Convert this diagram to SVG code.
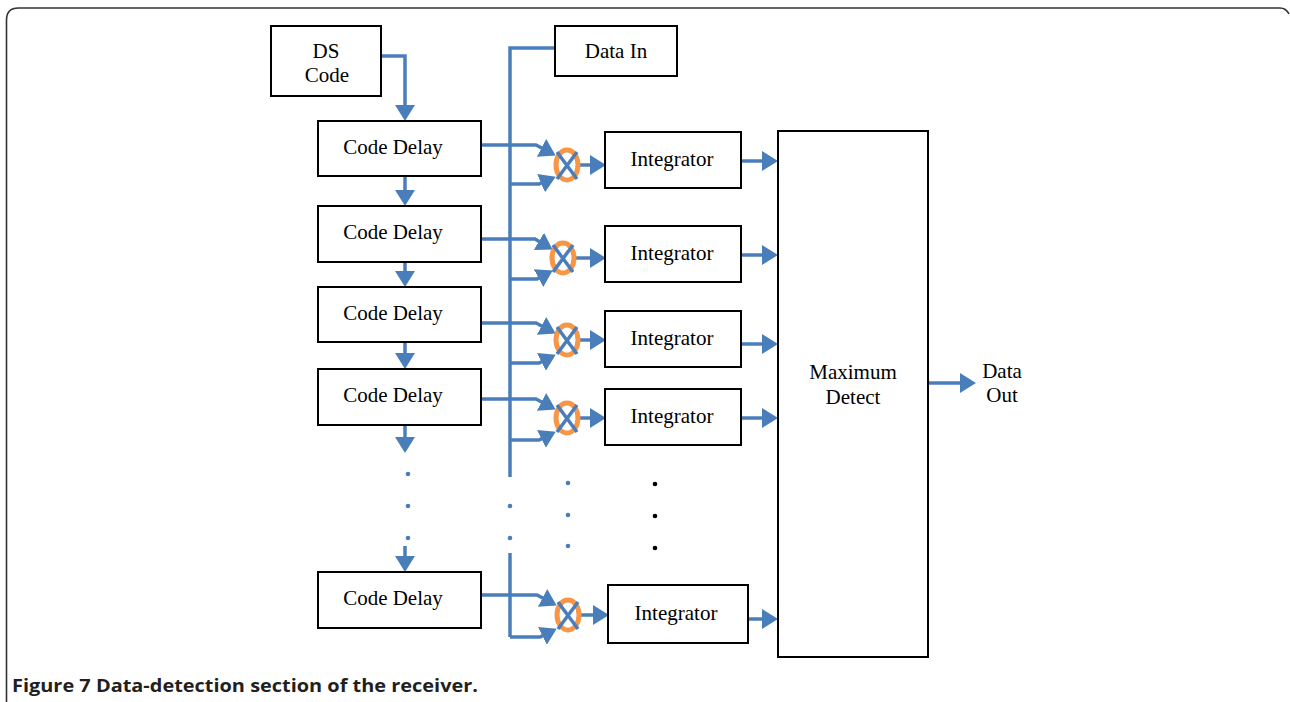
<svg xmlns="http://www.w3.org/2000/svg" width="1290" height="702" viewBox="0 0 1290 702">
<style>
.box{fill:#fff;stroke:#000;stroke-width:2}
.t{font-family:"Liberation Serif","Times New Roman",serif;font-size:21px;fill:#000;text-anchor:middle}
.c{fill:none;stroke:#4a7ebb;stroke-width:3.5}
.ca{fill:none;stroke:#4a7ebb;stroke-width:3.5;marker-end:url(#ah)}
.ring{fill:none;stroke:#f79646;stroke-width:5}
.bd{fill:#4a7ebb}
.kd{fill:#000}
</style>
<defs>
<marker id="ah" markerUnits="userSpaceOnUse" markerWidth="16" markerHeight="20" viewBox="0 0 16 20" refX="13" refY="10" orient="auto">
<path d="M0,0 L16,10 L0,20 z" fill="#4a7ebb"/>
</marker>
</defs>
<rect width="1290" height="702" fill="#fff"/>
<path d="M6.5,702 V20 Q6.5,8 18.5,8 H1280 Q1286,8 1289,14" fill="none" stroke="#333" stroke-width="1.6"/>

<g id="connectors">
<path class="ca" d="M381,56 H405 V118"/>
<path class="ca" d="M405,176 V203"/>
<path class="ca" d="M405,262 V284"/>
<path class="ca" d="M405,342 V366"/>
<path class="ca" d="M405,425 V450"/>
<path class="ca" d="M405,546 V569"/>
<path class="c" d="M555,48 H510 V477"/>
<path class="c" d="M510,553 V637"/>
<path class="ca" d="M481,145 H536 L553,154"/>
<path class="ca" d="M510,184 H539 L553,178"/>
<path class="ca" d="M580,165 H603"/>
<path class="ca" d="M741,161 H775"/>
<path class="ca" d="M481,239 H535 L550,248"/>
<path class="ca" d="M510,279 H537 L550,272"/>
<path class="ca" d="M576,258 H603"/>
<path class="ca" d="M741,255 H775"/>
<path class="ca" d="M481,323 H536 L553,332"/>
<path class="ca" d="M510,363 H539 L553,356"/>
<path class="ca" d="M580,340 H603"/>
<path class="ca" d="M741,344 H775"/>
<path class="ca" d="M481,399 H536 L553,408"/>
<path class="ca" d="M510,440 H539 L553,433"/>
<path class="ca" d="M580,418 H603"/>
<path class="ca" d="M741,418 H775"/>
<path class="ca" d="M481,595 H537 L554,604"/>
<path class="ca" d="M510,637 H540 L554,630"/>
<path class="ca" d="M581,615 H606"/>
<path class="ca" d="M748,619 H775"/>
<path class="ca" d="M928,383 H973"/>
</g>

<g id="ds-code"><rect class="box" x="271" y="26" width="110" height="70"/><text class="t" x="326" y="58">DS</text><text class="t" x="327" y="82">Code</text></g>
<g id="data-in"><rect class="box" x="555" y="26" width="122" height="50"/><text class="t" x="616" y="58">Data In</text></g>

<g id="delay1"><rect class="box" x="318" y="121" width="163" height="55"/><text class="t" x="393" y="154">Code Delay</text></g>
<g id="delay2"><rect class="box" x="318" y="206" width="163" height="56"/><text class="t" x="393" y="239">Code Delay</text></g>
<g id="delay3"><rect class="box" x="318" y="287" width="163" height="55"/><text class="t" x="393" y="320">Code Delay</text></g>
<g id="delay4"><rect class="box" x="318" y="369" width="163" height="56"/><text class="t" x="393" y="402">Code Delay</text></g>
<g id="delay5"><rect class="box" x="318" y="572" width="163" height="56"/><text class="t" x="393" y="605">Code Delay</text></g>

<g id="mult1"><ellipse class="ring" cx="567" cy="165" rx="11" ry="15"/><path class="c" d="M557,152 L577,179 M577,152 L557,179"/></g>
<g id="mult2"><ellipse class="ring" cx="563" cy="258" rx="11" ry="15"/><path class="c" d="M553,245 L573,272 M573,245 L553,272"/></g>
<g id="mult3"><ellipse class="ring" cx="567" cy="340" rx="11" ry="15"/><path class="c" d="M557,327 L577,354 M577,327 L557,354"/></g>
<g id="mult4"><ellipse class="ring" cx="567" cy="418" rx="11" ry="15"/><path class="c" d="M557,405 L577,432 M577,405 L557,432"/></g>
<g id="mult5"><ellipse class="ring" cx="568" cy="615" rx="11" ry="15"/><path class="c" d="M558,602 L578,629 M578,602 L558,629"/></g>

<g id="int1"><rect class="box" x="605" y="132" width="136" height="56"/><text class="t" x="672" y="166">Integrator</text></g>
<g id="int2"><rect class="box" x="605" y="226" width="136" height="56"/><text class="t" x="672" y="260">Integrator</text></g>
<g id="int3"><rect class="box" x="605" y="311" width="136" height="56"/><text class="t" x="672" y="345">Integrator</text></g>
<g id="int4"><rect class="box" x="605" y="389" width="136" height="56"/><text class="t" x="672" y="423">Integrator</text></g>
<g id="int5"><rect class="box" x="608" y="585" width="140" height="58"/><text class="t" x="676" y="620">Integrator</text></g>

<g id="max-detect"><rect class="box" x="778" y="131" width="150" height="526"/><text class="t" x="853" y="379">Maximum</text><text class="t" x="853" y="404">Detect</text></g>
<g id="data-out"><text class="t" x="1002" y="378">Data</text><text class="t" x="1002" y="402">Out</text></g>

<g id="dots">
<circle class="bd" cx="408" cy="474" r="2.3"/><circle class="bd" cx="408" cy="506" r="2.3"/><circle class="bd" cx="408" cy="538" r="2.3"/>
<circle class="bd" cx="510" cy="506" r="2.3"/><circle class="bd" cx="510" cy="538" r="2.3"/>
<circle class="bd" cx="568" cy="483" r="2.3"/><circle class="bd" cx="568" cy="515" r="2.3"/><circle class="bd" cx="568" cy="546" r="2.3"/>
<circle class="kd" cx="655" cy="484" r="2.3"/><circle class="kd" cx="655" cy="516" r="2.3"/><circle class="kd" cx="655" cy="548" r="2.3"/>
</g>

<text x="12" y="692" font-family="'Open Sans','Liberation Sans',Arial,sans-serif" font-size="18" font-weight="bold" fill="#231f20" textLength="466" lengthAdjust="spacingAndGlyphs">Figure 7 Data-detection section of the receiver.</text>
</svg>
